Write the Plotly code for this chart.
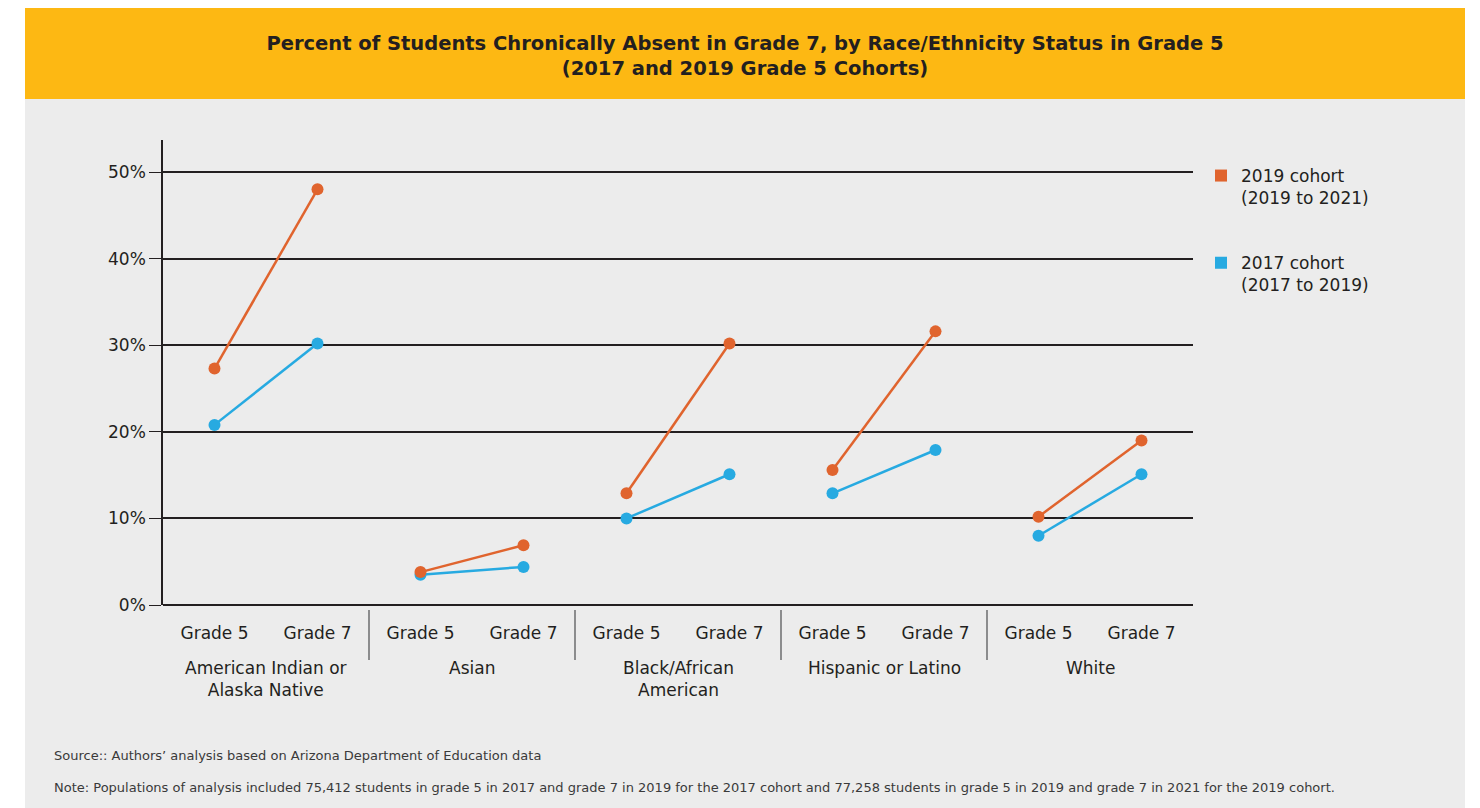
import plotly.graph_objects as go

# ---------------- data ----------------
groups = ["American Indian or<br>Alaska Native", "Asian", "Black/African<br>American",
          "Hispanic or Latino", "White"]
grades = ["Grade 5", "Grade 7"]
cohort_2019_g5 = [27.3, 3.8, 12.9, 15.6, 10.2]
cohort_2019_g7 = [48.0, 6.9, 30.2, 31.6, 19.0]
cohort_2017_g5 = [20.8, 3.5, 10.0, 12.9, 8.0]
cohort_2017_g7 = [30.2, 4.4, 15.1, 17.9, 15.1]
y_ticks = [0, 10, 20, 30, 40, 50]
y_tick_labels = ["0%", "10%", "20%", "30%", "40%", "50%"]
series_names = ["2019 cohort<br>(2019 to 2021)", "2017 cohort<br>(2017 to 2019)"]

ORANGE = "#e0642e"
BLUE = "#27aae1"
INK = "#231f20"
GRAY_BG = "#ececec"
YELLOW = "#fdb813"

# geometry of plot area in pixels (for background shapes in paper coords)
W, H = 1480, 808
L, R, T, B = 163, 1193, 140, 605
def px(x):
    return (x - L) / (R - L)
def py(y):
    return (B - y) / (B - T)

grade_offsets = [0.5, 1.5]

fig = go.Figure()

for gi in range(len(groups)):
    xs = [2 * gi + o for o in grade_offsets]
    fig.add_trace(go.Scatter(
        x=xs, y=[cohort_2017_g5[gi], cohort_2017_g7[gi]], mode="lines+markers",
        line=dict(color=BLUE, width=2.5), marker=dict(color=BLUE, size=12),
        showlegend=False, hoverinfo="y"))
    fig.add_trace(go.Scatter(
        x=xs, y=[cohort_2019_g5[gi], cohort_2019_g7[gi]], mode="lines+markers",
        line=dict(color=ORANGE, width=2.5), marker=dict(color=ORANGE, size=12),
        showlegend=False, hoverinfo="y"))

# legend entries
for name, col, grp in [(series_names[0], ORANGE, "a"), (series_names[1], BLUE, "b")]:
    fig.add_trace(go.Scatter(
        x=[None], y=[None], mode="markers", name=name, legendgroup=grp,
        marker=dict(symbol="square", size=14, color=col)))

tickvals = []
ticktext = []
for gi in range(len(groups)):
    for k, o in enumerate(grade_offsets):
        tickvals.append(2 * gi + o)
        ticktext.append(grades[k])

shapes = [
    # gray panel
    dict(type="rect", xref="paper", yref="paper", x0=px(25), x1=px(1465), y0=py(808), y1=py(98),
         fillcolor=GRAY_BG, line=dict(width=0), layer="below"),
    # yellow header
    dict(type="rect", xref="paper", yref="paper", x0=px(25), x1=px(1465), y0=py(99), y1=py(8),
         fillcolor=YELLOW, line=dict(width=0), layer="below"),
]
for gi in range(1, len(groups)):
    shapes.append(dict(type="line", xref="x", yref="paper", x0=2 * gi, x1=2 * gi,
                       y0=py(610), y1=py(660), line=dict(color="#58595b", width=1.3)))

annotations = []
for gi, g in enumerate(groups):
    annotations.append(dict(x=2 * gi + 1, y=py(656), xref="x", yref="paper",
                            text=g, showarrow=False, xanchor="center", yanchor="top",
                            font=dict(size=17, color=INK, family="DejaVu Sans")))
annotations.append(dict(x=px(52), y=py(755), xref="paper", yref="paper",
                        text="Source:: Authors\u2019 analysis based on Arizona Department of Education data",
                        showarrow=False, xanchor="left", yanchor="middle",
                        font=dict(size=13, color="#3a3a3a", family="DejaVu Sans")))
annotations.append(dict(x=px(52), y=py(787), xref="paper", yref="paper",
                        text=("Note: Populations of analysis included 75,412 students in grade 5 in 2017 and grade 7 in 2019 "
                              "for the 2017 cohort and 77,258 students in grade 5 in 2019 and grade 7 in 2021 for the 2019 cohort."),
                        showarrow=False, xanchor="left", yanchor="middle",
                        font=dict(size=13, color="#3a3a3a", family="DejaVu Sans")))

fig.update_layout(
    width=W, height=H,
    margin=dict(l=L, r=W - R, t=T, b=H - B),
    paper_bgcolor="white", plot_bgcolor="rgba(0,0,0,0)",
    font=dict(family="DejaVu Sans", color=INK, size=17),
    title=dict(text="<b>Percent of Students Chronically Absent in Grade 7, by Race/Ethnicity Status in Grade 5<br>"
                    "(2017 and 2019 Grade 5 Cohorts)</b>",
               x=745 / W, xanchor="center", y=1 - 50 / H, yanchor="middle",
               font=dict(size=19.5, color=INK, family="DejaVu Sans")),
    xaxis=dict(range=[0, 10], tickvals=tickvals, ticktext=ticktext, showgrid=False,
               zeroline=False, showline=False, ticks="", ticklabelstandoff=16,
               tickfont=dict(size=17, color=INK)),
    yaxis=dict(range=[0, 53.7], tickvals=y_ticks, ticktext=y_tick_labels,
               showgrid=True, gridcolor=INK, gridwidth=1.5,
               zeroline=True, zerolinecolor=INK, zerolinewidth=1.5,
               showline=True, linecolor=INK, linewidth=1.5,
               ticks="outside", ticklen=12, tickcolor=INK, tickwidth=1.3,
               tickfont=dict(size=17, color=INK)),
    legend=dict(x=px(1201), y=py(158), xanchor="left", yanchor="top",
                bgcolor="rgba(0,0,0,0)", valign="top", tracegroupgap=40,
                font=dict(size=17, color=INK, family="DejaVu Sans"),
                itemsizing="constant"),
    shapes=shapes, annotations=annotations,
)

fig.write_html("out.html")
